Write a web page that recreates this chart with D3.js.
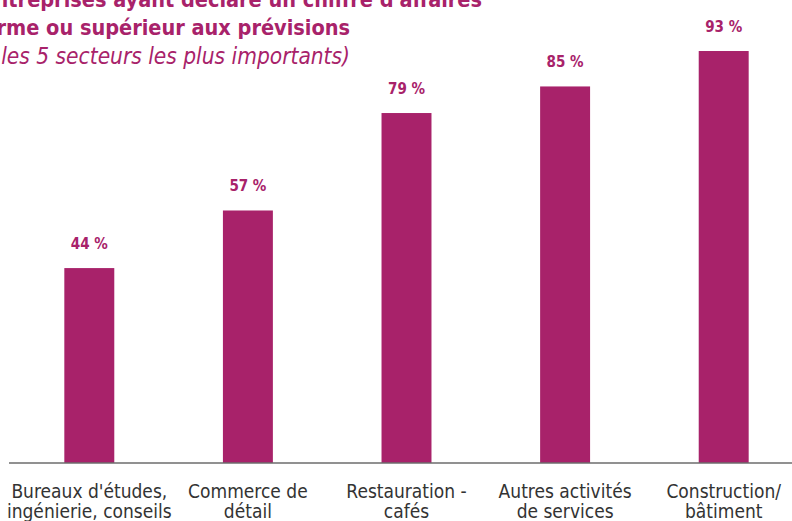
<!DOCTYPE html>
<html>
<head>
<meta charset="utf-8">
<script src="https://d3js.org/d3.v7.min.js"></script>
<style>
  body { margin: 0; background: #fff; }
  text { font-family: "DejaVu Sans", sans-serif; font-stretch: condensed; }
</style>
</head>
<body>
<div id="chart"></div>
<script>
// data
var sectors = ["Bureaux d'études,|ingénierie, conseils", "Commerce de|détail", "Restauration -|cafés",
               "Autres activités|de services", "Construction/|bâtiment"];
var shares = [44, 57, 79, 85, 93];
var titleLines = ["Part des entreprises ayant déclaré un chiffre d'affaires",
                  "conforme ou supérieur aux prévisions"];
var subtitle = "(parmi les 5 secteurs les plus importants)";

var width = 792, height = 521;
var magenta = "#a8226a";

var svg = d3.select("#chart").append("svg")
  .attr("width", width)
  .attr("height", height);

var x = d3.scaleBand()
  .domain(sectors)
  .range([10, 803])
  .paddingInner(0.685)
  .paddingOuter(0.3425);

var y = d3.scaleLinear()
  .domain([0, 100])
  .range([463, 20]);

// title, cut at the top-left like the original
svg.append("text").attr("x", 482).attr("y", 7).attr("text-anchor", "end")
  .style("font-size", "21.5px").style("font-weight", "bold").style("fill", magenta)
  .text(titleLines[0]);
svg.append("text").attr("x", 350).attr("y", 35).attr("text-anchor", "end")
  .style("font-size", "21.5px").style("font-weight", "bold").style("fill", magenta)
  .text(titleLines[1]);
svg.append("text").attr("x", 350).attr("y", 64).attr("text-anchor", "end")
  .style("font-size", "22.5px").style("font-style", "italic").style("fill", magenta)
  .text(subtitle);

// bars
svg.selectAll("rect.bar")
  .data(shares)
  .enter().append("rect")
    .attr("class", "bar")
    .attr("x", function(d, i) { return x(sectors[i]); })
    .attr("width", x.bandwidth())
    .attr("y", function(d) { return y(d); })
    .attr("height", function(d) { return y(0) - y(d); })
    .style("fill", magenta);

// value labels
svg.selectAll("text.val")
  .data(shares)
  .enter().append("text")
    .attr("class", "val")
    .attr("x", function(d, i) { return x(sectors[i]) + x.bandwidth() / 2; })
    .attr("y", function(d) { return y(d) - 19; })
    .attr("text-anchor", "middle")
    .style("font-size", "15px").style("font-weight", "bold").style("fill", magenta)
    .text(function(d) { return d + " %"; });

// baseline axis
var axis = svg.append("g")
  .attr("transform", "translate(0," + y(0) + ")")
  .call(d3.axisBottom(x).tickSize(0).tickFormat(""));
axis.select(".domain").attr("d", "M9,0H792").style("stroke", "#6d6d6d").style("stroke-width", 1.5);

// category labels in two lines
axis.selectAll(".tick").each(function(d) {
  var t = d3.select(this).append("text")
    .attr("text-anchor", "middle")
    .style("font-size", "19px").style("fill", "#333");
  d.split("|").forEach(function(line, k) {
    t.append("tspan").attr("x", 0).attr("y", 35 + k * 20).text(line);
  });
});
</script>
</body>
</html>
